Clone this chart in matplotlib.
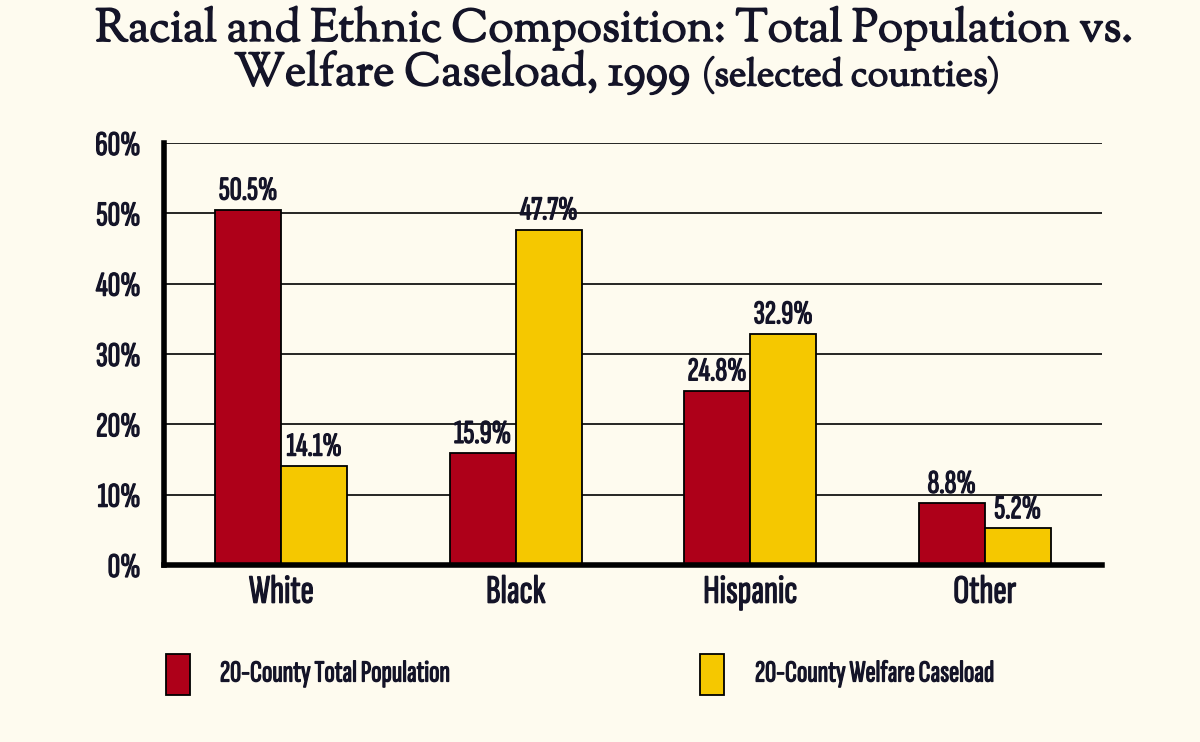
import matplotlib
matplotlib.use("Agg")
import matplotlib.pyplot as plt
from matplotlib.patches import Rectangle
import matplotlib.patheffects as pe

categories = ["White", "Black", "Hispanic", "Other"]
population = [50.5, 15.9, 24.8, 8.8]
caseload = [14.1, 47.7, 32.9, 5.2]
series_labels = ["20-County Total Population", "20-County Welfare Caseload"]
yticks = [0, 10, 20, 30, 40, 50, 60]

BG = "#FEFBEF"
RED = "#AE0019"
YEL = "#F5C800"
TXT = "#141428"
NARROW = ["Sofia Sans Extra Condensed", "Pathway Gothic One", "DejaVu Sans"]
SERIF = ["Sorts Mill Goudy", "DejaVu Serif"]
bold_fx = [pe.withStroke(linewidth=1.1, foreground=TXT)]
narrow_fx = [pe.withStroke(linewidth=0.9, foreground=TXT)]

fig = plt.figure(figsize=(12, 7.42), dpi=100, facecolor=BG)
ax = fig.add_axes([164/1200, 1-565/742, 938/1200, 422/742], facecolor=BG)

x = list(range(len(categories)))
w = 0.282
ax.bar([i - w/2 for i in x], population, width=w, color=RED, edgecolor="black", linewidth=1.3, zorder=3)
ax.bar([i + w/2 for i in x], caseload, width=w, color=YEL, edgecolor="black", linewidth=1.3, zorder=3)

for i in x:
    ax.text(i - w/2, population[i] + 0.6, f"{population[i]}%", ha="center", va="bottom",
            fontsize=24, family=NARROW, weight="bold", color=TXT, zorder=4, path_effects=narrow_fx)
    ax.text(i + w/2, caseload[i] + 0.6, f"{caseload[i]}%", ha="center", va="bottom",
            fontsize=24, family=NARROW, weight="bold", color=TXT, zorder=4, path_effects=narrow_fx)

ax.set_xlim(-0.5, 3.5)
ax.set_ylim(0, 60)
ax.set_yticks(yticks)
ax.set_yticklabels([f"{t}%" for t in yticks], family=NARROW, weight="bold", fontsize=25, color=TXT)
ax.set_xticks(x)
ax.set_xticklabels(categories, family=NARROW, weight="bold", fontsize=29, color=TXT)
for lbl in ax.get_xticklabels() + ax.get_yticklabels():
    lbl.set_path_effects(narrow_fx)
ax.tick_params(axis="x", length=0, pad=7)
ax.tick_params(axis="y", length=0, pad=17)
for t in yticks[1:]:
    ax.axhline(t, color="black", linewidth=1.2, zorder=1)
for s in ["top", "right"]:
    ax.spines[s].set_visible(False)
ax.spines["left"].set_linewidth(4)
ax.spines["bottom"].set_linewidth(4)
ax.spines["left"].set_zorder(5)
ax.spines["bottom"].set_zorder(5)

# Title
fig.text(614/1200, 1-28/742, "Racial and Ethnic Composition: Total Population vs.", ha="center", va="center",
         fontsize=33, family=SERIF, color=TXT, path_effects=bold_fx)
fig.text(690/1200, 1-72/742, "Welfare Caseload, 1999", ha="right", va="center",
         fontsize=33, family=SERIF, color=TXT, path_effects=bold_fx)
fig.text(702/1200, 1-74/742, "(selected counties)", ha="left", va="center",
         fontsize=27, family=SERIF, color=TXT, path_effects=bold_fx)

# Legend
for (x0, col, lab, tx) in [(166, RED, series_labels[0], 220), (700, YEL, series_labels[1], 755)]:
    fig.patches.append(Rectangle((x0/1200, 1-695/742), 24/1200, 41/742, transform=fig.transFigure,
                                 facecolor=col, edgecolor="black", linewidth=1.3))
    fig.text(tx/1200, 1-674/742, lab, ha="left", va="center", fontsize=22, family=NARROW,
             weight="bold", color=TXT, path_effects=narrow_fx)

fig.savefig("out.png", dpi=100, facecolor=BG)
